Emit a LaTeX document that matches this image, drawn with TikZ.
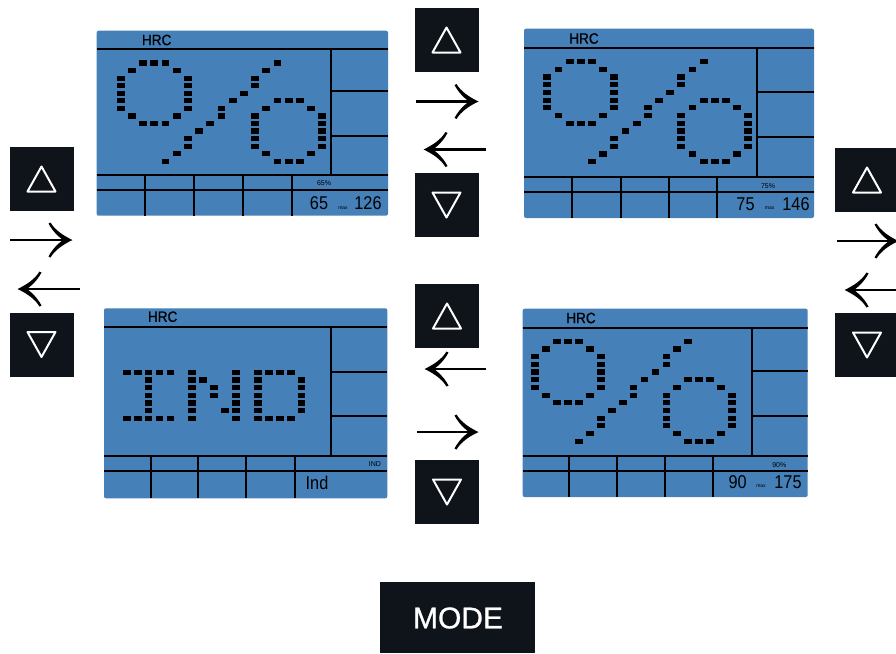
\documentclass[tikz,border=0pt]{standalone}
\usepackage{fontspec}
\setmainfont{Liberation Sans}
\newfontfamily\segfont{Liberation Sans}[FakeStretch=0.88]
\newfontfamily\narrowfont{Liberation Sans}[FakeStretch=0.9,FakeBold=0.8]
\newfontfamily\modefont{Liberation Sans}[FakeBold=0.8]
\usetikzlibrary{arrows.meta,calc}
\definecolor{lcdblue}{RGB}{70,128,184}
\definecolor{btndark}{RGB}{15,19,26}
\tikzset{
  lcd/.style={fill=lcdblue, rounded corners=2pt},
  lcdline/.style={line width=2pt, draw=black},
  btn/.style={fill=btndark, minimum width=64pt, minimum height=64pt, inner sep=0pt},
  tri/.style={draw=white, line width=2pt, line join=round},
  navarrow/.style={line width=2.4pt, shorten >=6pt},
  arrowhead/.pic={\fill[black] (0.5,0) .. controls (-9,-4.5) and (-17,-10) .. (-21.5,-17.5)
      -- (-23.5,-16.5) .. controls (-19,-8) and (-13,-3) .. (-9,0)
      .. controls (-13,3) and (-19,8) .. (-23.5,16.5)
      -- (-21.5,17.5) .. controls (-17,10) and (-9,4.5) .. (0.5,0) -- cycle;},
  hrc/.style={font=\narrowfont\fontsize{15}{15}\selectfont, inner sep=0pt},
  pct/.style={font=\fontsize{7}{7}\selectfont, inner sep=0pt},
  seg/.style={font=\segfont\fontsize{18.5}{18.5}\selectfont, inner sep=0pt},
  maxlbl/.style={font=\fontsize{5}{5}\selectfont, inner sep=0pt},
  modetxt/.style={font=\modefont\fontsize{30}{30}\selectfont, text=white, inner sep=0pt},
}
\newcommand{\dotgrid}[5]{%
  \foreach \c/\r in #5 {\fill[black] ({#1+\c*#3-3.9},{#2+\r*#4-2.6}) rectangle ++(7.8,5.2);}}
\def\pctlist{2/0,3/0,4/0,1/1,5/1,0/2,0/3,0/4,0/5,0/6,6/2,6/3,6/4,6/5,6/6,1/7,5/7,2/8,3/8,4/8,%
14/0,13/1,12/2,12/3,11/4,10/5,9/6,9/7,8/8,7/9,6/10,6/11,5/12,4/13,%
14/5,15/5,16/5,13/6,17/6,12/7,12/8,12/9,12/10,12/11,18/7,18/8,18/9,18/10,18/11,13/12,17/12,14/13,15/13,16/13}
\def\indlist{0/0,1/0,2/0,3/0,4/0,2/1,2/2,2/3,2/4,2/5,0/6,1/6,2/6,3/6,4/6,%
6/0,6/1,6/2,6/3,6/4,6/5,6/6,10/0,10/1,10/2,10/3,10/4,10/5,10/6,7/1,8/2,8/3,9/5,%
12/0,13/0,14/0,15/0,12/1,12/2,12/3,12/4,12/5,16/1,16/2,16/3,16/4,16/5,12/6,13/6,14/6,15/6}
\newcommand{\uptri}[1]{\draw[tri] ($(#1)+(0,-12.5)$) -- ($(#1)+(14,12.5)$) -- ($(#1)+(-14,12.5)$) -- cycle;}
\newcommand{\downtri}[1]{\draw[tri] ($(#1)+(0,12.5)$) -- ($(#1)+(14,-12.5)$) -- ($(#1)+(-14,-12.5)$) -- cycle;}
\begin{document}
\begin{tikzpicture}[x=1pt,y=-1pt]
\useasboundingbox (0,0) rectangle (896,653);
\fill[white] (0,0) rectangle (896,653);

% ---------- Panel TL ----------
\path[lcd] (96.7,30.7) rectangle (388,215.7);
\draw[lcdline] (96.7,48.7) -- (388,48.7) (331,48.7) -- (331,174.7)
  (331,91.3) -- (388,91.3) (331,135.7) -- (388,135.7)
  (96.7,174.7) -- (388,174.7) (96.7,190) -- (388,190)
  (145,174.7) -- (145,215.7) (194,174.7) -- (194,215.7)
  (242.7,174.7) -- (242.7,215.7) (291.7,174.7) -- (291.7,215.7);
\node[hrc] (tlh) at (156.7,40) {HRC};
\node[pct] (tlp) at (324,183) {65\%};
\node[seg] (tla) at (319,203.5) {65};
\node[maxlbl] (tlm) at (343,208) {max};
\node[seg] (tlb) at (368,203.5) {126};
\dotgrid{120.7}{63}{11.2}{7.56}{\pctlist}

% ---------- Panel TR ----------
\path[lcd] (524,28.7) rectangle (814,218);
\draw[lcdline] (524,48) -- (814,48) (756.7,48) -- (756.7,176.7)
  (756.7,92.3) -- (814,92.3) (756.7,136.7) -- (814,136.7)
  (524,176.7) -- (814,176.7) (524,191.7) -- (814,191.7)
  (572,176.7) -- (572,218) (620.7,176.7) -- (620.7,218)
  (669,176.7) -- (669,218) (717.3,176.7) -- (717.3,218);
\node[hrc] (trh) at (584,38.5) {HRC};
\node[pct] (trp) at (768,185.7) {75\%};
\node[seg] (tra) at (745.5,204) {75};
\node[maxlbl] (trm) at (769.7,208.5) {max};
\node[seg] (trb) at (796,204) {146};
\dotgrid{547.3}{61.7}{11.17}{7.69}{\pctlist}

% ---------- Panel BL ----------
\path[lcd] (104,308.3) rectangle (387.3,498.3);
\draw[lcdline] (104,326.7) -- (387.3,326.7) (331,326.7) -- (331,455.7)
  (331,371.7) -- (387.3,371.7) (331,416) -- (387.3,416)
  (104,455.7) -- (387.3,455.7) (104,471) -- (387.3,471)
  (150.7,455.7) -- (150.7,498.3) (197.7,455.7) -- (197.7,498.3)
  (245.7,455.7) -- (245.7,498.3) (295,455.7) -- (295,498.3);
\node[hrc] (blh) at (162.7,316.7) {HRC};
\node[pct] (blp) at (375,464) {IND};
\node[seg] (bla) at (317,483) {Ind};
\dotgrid{126.7}{372.3}{10.93}{7.67}{\indlist}

% ---------- Panel BR ----------
\path[lcd] (522.7,308.7) rectangle (807.7,497);
\draw[lcdline] (522.7,327.7) -- (807.7,327.7) (751.7,327.7) -- (751.7,456)
  (751.7,371.3) -- (807.7,371.3) (751.7,416.3) -- (807.7,416.3)
  (522.7,456) -- (807.7,456) (522.7,471.3) -- (807.7,471.3)
  (569.3,456) -- (569.3,497) (617,456) -- (617,497)
  (665,456) -- (665,497) (712.7,456) -- (712.7,497);
\node[hrc] (brh) at (581,318) {HRC};
\node[pct] (brp) at (779.3,464.7) {90\%};
\node[seg] (bra) at (737.7,482) {90};
\node[maxlbl] (brm) at (761,486.5) {max};
\node[seg] (brb) at (788,482) {175};
\dotgrid{535}{341.3}{10.95}{7.69}{\pctlist}

% ---------- Buttons ----------
\node[btn] (lu) at (41.5,179) {};   \uptri{lu}
\node[btn] (ld) at (41.5,344.5) {}; \downtri{ld}
\node[btn] (ru) at (867,180) {};    \uptri{ru}
\node[btn] (rd) at (867,345) {};    \downtri{rd}
\node[btn] (tu) at (446.5,40) {};   \uptri{tu}
\node[btn] (td) at (446.5,205) {};  \downtri{td}
\node[btn] (bu) at (447,316) {};    \uptri{bu}
\node[btn] (bd) at (447,492) {};    \downtri{bd}
\node[fill=btndark, minimum width=155pt, minimum height=71pt, inner sep=0pt] (mode) at (457.5,617.5) {};
\node[modetxt] (modet) at (458,618) {MODE};

% ---------- Arrows ----------
\coordinate (l1s) at (10,240);  \coordinate (l1e) at (72,240);
\coordinate (l2s) at (80,289);  \coordinate (l2e) at (18,289);
\coordinate (t1s) at (416,101.5); \coordinate (t1e) at (478,101.5);
\coordinate (t2s) at (486,149.5); \coordinate (t2e) at (424,149.5);
\coordinate (b1s) at (486,369); \coordinate (b1e) at (425,369);
\coordinate (b2s) at (417,432); \coordinate (b2e) at (478,432);
\coordinate (r1s) at (837,241); \coordinate (r1e) at (898,241);
\coordinate (r2s) at (905,290); \coordinate (r2e) at (845,290);
\foreach \a/\ang in {l1/0,l2/180,t1/0,t2/180,b1/180,b2/0,r1/0,r2/180} {
  \draw[navarrow] (\a s) -- (\a e);
  \pic[rotate=\ang] at (\a e) {arrowhead};
}
\end{tikzpicture}
\end{document}
